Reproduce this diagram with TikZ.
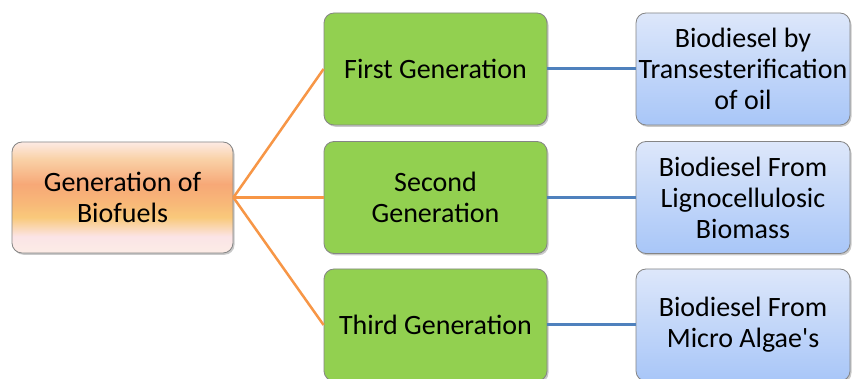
\documentclass[tikz,border=0pt]{standalone}
\usepackage{fontspec}
\newfontfamily\cfont{Carlito}
\usetikzlibrary{shadows}
\definecolor{gfill}{HTML}{92D050}
\definecolor{orline}{HTML}{F79646}
\definecolor{blline}{HTML}{4F81BD}
\definecolor{bordc}{HTML}{858585}
\definecolor{btop}{HTML}{DDE7FA}
\definecolor{bbot}{HTML}{A8C6F8}
\definecolor{oa}{HTML}{FDEAE4}
\definecolor{ob}{HTML}{F9D2A8}
\definecolor{oc}{HTML}{F7A877}
\definecolor{od}{HTML}{F8B878}
\definecolor{oe}{HTML}{F9C97B}
\definecolor{of}{HTML}{FBE4E6}
\definecolor{og}{HTML}{FCECE6}
\pgfdeclareverticalshading{orangegrad}{100bp}{color(0bp)=(og); color(25bp)=(og); color(32.5bp)=(of); color(41bp)=(oe); color(47.5bp)=(od); color(56bp)=(oc); color(67.5bp)=(ob); color(75bp)=(oa); color(100bp)=(oa)}
\begin{document}
\begin{tikzpicture}[x=1pt,y=-1pt,
  basebox/.style={rectangle, rounded corners=10pt, draw=bordc, line width=0.8pt,
    align=center, inner sep=0pt, font=\cfont\fontsize{28}{31}\selectfont,
    drop shadow={shadow xshift=1.5pt, shadow yshift=-1.8pt, opacity=0.35, fill=black!60}},
  rootbox/.style={basebox, shading=orangegrad, minimum width=221pt, minimum height=111pt},
  genbox/.style={basebox, fill=gfill, minimum width=223pt, minimum height=112pt},
  leafbox/.style={basebox, top color=btop, bottom color=bbot, minimum width=214pt, minimum height=112pt},
  orconn/.style={draw=orline, line width=2.5pt},
  blconn/.style={draw=blline, line width=3pt}]
\useasboundingbox (0,0) rectangle (854,379);
\fill[white] (0,0) rectangle (854,379);
\node[rootbox] (root) at (122.5,197.5) {Generation of\\Biofuels};
\node[genbox] (g1) at (435.5,69) {First Generation};
\node[genbox] (g2) at (435.5,197.5) {Second\\Generation};
\node[genbox] (g3) at (435.5,325) {Third Generation};
\node[leafbox] (b1) at (743,69) {Biodiesel by\\Transesterification\\of oil};
\node[leafbox] (b2) at (743,197.5) {Biodiesel From\\Lignocellulosic\\Biomass};
\node[leafbox] (b3) at (743,325) {Biodiesel From\\Micro Algae's};
\draw[orconn] (root.east) -- (g1.west);
\draw[orconn] (root.east) -- (g2.west);
\draw[orconn] (root.east) -- (g3.west);
\draw[blconn] (g1.east) -- (b1.west);
\draw[blconn] (g2.east) -- (b2.west);
\draw[blconn] (g3.east) -- (b3.west);
\end{tikzpicture}
\end{document}
